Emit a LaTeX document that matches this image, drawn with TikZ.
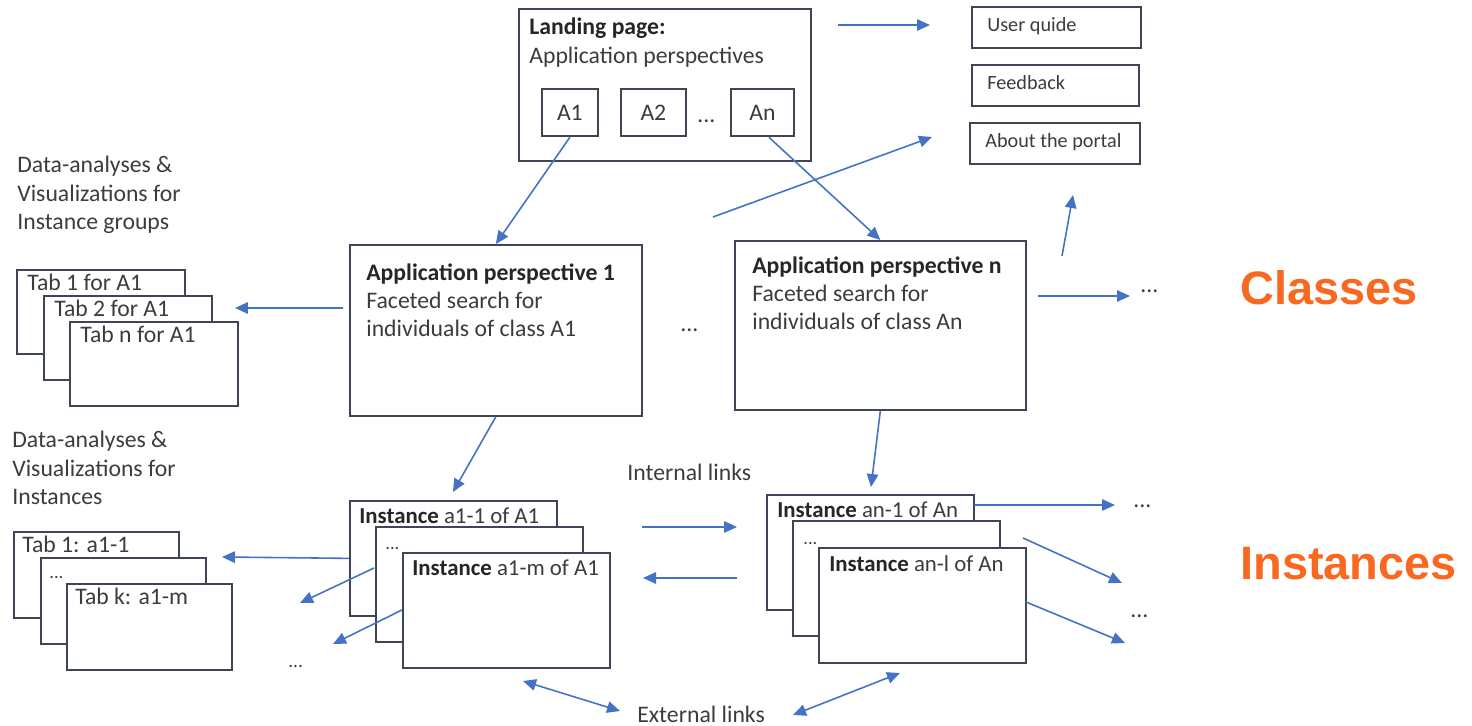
\documentclass[tikz,border=0pt]{standalone}
\usepackage{fontspec}
\setmainfont{Carlito}
\newfontfamily\tagfont{Liberation Sans}
\usetikzlibrary{arrows.meta,positioning}
\definecolor{frame}{RGB}{62,70,86}
\definecolor{ink}{RGB}{60,60,60}
\definecolor{linkblue}{RGB}{68,114,196}
\definecolor{tagorange}{RGB}{250,104,32}
\newcommand{\headtext}[1]{\textbf{\color{black!85}#1}}
\newcommand{\fewdots}{{\fontsize{10.5}{12}\selectfont...}}
\tikzset{
  card/.style={draw=frame,line width=1pt,fill=white,anchor=north west,inner sep=0pt},
  persp/.style={card,minimum width=5.84cm,minimum height=3.4cm},
  appkey/.style={card,minimum height=0.95cm,text=ink,font=\fontsize{13.5}{16}\selectfont},
  menu/.style={card,minimum height=0.82cm},
  tabcard/.style={card,minimum width=3.36cm,minimum height=1.68cm},
  itabcard/.style={card,minimum width=3.3cm,minimum height=1.72cm},
  instcard/.style={card,minimum width=4.15cm,minimum height=2.3cm},
  body/.style={anchor=north west,inner sep=0pt,align=left,text=ink,font=\fontsize{13.5}{16.2}\selectfont},
  oneline/.style={anchor=base west,inner sep=0pt,text=ink,font=\fontsize{13.5}{16.2}\selectfont},
  link/.style={-{Triangle[length=2.6mm,width=2.3mm]},draw=linkblue,line width=0.9pt},
  twoway/.style={link,{Triangle[length=2.6mm,width=2.3mm]}-{Triangle[length=2.6mm,width=2.3mm]}},
  tagword/.style={anchor=base west,inner sep=0pt,text=tagorange,font=\tagfont\bfseries\fontsize{26.7}{30}\selectfont}
}
\begin{document}
\begin{tikzpicture}[x=0.02cm,y=-0.02cm]
\useasboundingbox (0,0) rectangle (1472,726);
% landing page and its perspectives
\node[card,minimum width=5.84cm,minimum height=3.04cm] (land) at (518,8) {};
\node[body] (landtxt) at (529,18) {\headtext{Landing page:}\\Application perspectives};
\node[appkey,minimum width=1.12cm] (a1) at (541,88) {A1};
\node[appkey,minimum width=1.3cm] (a2) at (620,88) {A2};
\node[appkey,minimum width=1.26cm] (an) at (730,88) {An};
\node[oneline] (keydots) at (697,123) {...};
% portal menu
\foreach \nm/\x/\y/\w/\lab in {guide/971/6/3.38/{User quide},feedback/971/64/3.34/{Feedback},about/969/122/3.4/{About the portal}} {
  \node[menu,minimum width=\w cm] (\nm) at (\x,\y) {};
  \node[oneline,font=\fontsize{11.5}{14}\selectfont] (txt\nm) at (\x+16,\y+26) {\lab};
}
% class level
\node[persp,minimum height=3.42cm] (ap1) at (349,244) {};
\node[body] (ap1txt) at (366,263) {\headtext{Application perspective 1}\\Faceted search for\\individuals of class A1};
\node[persp,minimum width=5.82cm,minimum height=3.38cm] (apn) at (734,240) {};
\node[body] (apntxt) at (752,256) {\headtext{Application perspective n}\\Faceted search for\\individuals of class An};
\node[oneline] (apdots) at (680,332) {...};
\node[oneline] (apndots) at (1140,293) {...};
\node[body] (grouplbl) at (17,156) {Data-analyses \&\\Visualizations for\\Instance groups};
\foreach \i/\x/\y/\lab in {1/16/269/{Tab 1 for A1},2/43/295/{Tab 2 for A1},3/69/321/{Tab n for A1}} {
  \node[tabcard] (tg\i) at (\x,\y) {};
  \node[oneline] (tgtxt\i) at (\x+11,\y+22) {\lab};
}
% instance level
\node[body] (instlbl) at (12,431) {Data-analyses \&\\Visualizations for\\Instances};
\foreach \i/\x/\y/\lab in {1/13/531/{Tab 1: a1-1},2/40/557/{\fewdots},3/66/583/{Tab k: a1-m}} {
  \node[itabcard] (ti\i) at (\x,\y) {};
  \node[oneline] (titxt\i) at (\x+9,\y+21) {\lab};
}
\foreach \i/\x/\y/\lab in {1/349/500/{\headtext{Instance} a1-1 of A1},2/375/526/{\fewdots},3/402/552/{\headtext{Instance} a1-m of A1}} {
  \node[instcard] (ia\i) at (\x,\y) {};
  \node[oneline,font=\fontsize{13}{16}\selectfont] (iatxt\i) at (\x+10,\y+23) {\lab};
}
\foreach \i/\x/\y/\lab in {1/766/494/{\headtext{Instance} an-1 of An},2/792/520/{\fewdots},3/818/547/{\headtext{Instance} an-l of An}} {
  \node[instcard,minimum width=4.14cm] (in\i) at (\x,\y) {};
  \node[oneline,font=\fontsize{13}{16}\selectfont] (intxt\i) at (\x+11,\y+24) {\lab};
}
\node[oneline] (intlbl) at (627,480) {Internal links};
\node[oneline] (extlbl) at (637,722) {External links};
\node[oneline] (indots1) at (1133,507) {...};
\node[oneline] (indots2) at (1130,617) {...};
\node[oneline,font=\fontsize{11}{13}\selectfont] (iadots) at (288,667) {...};
\node[tagword] (classes) at (1240,305) {Classes};
\node[tagword] (instances) at (1240,580) {Instances};
% free arrow ends
\coordinate (menuin) at (838,25);
\coordinate (menuout) at (930,25);
\coordinate (portalin) at (713,217);
\coordinate (portalout) at (932,137);
\coordinate (upin) at (1062,256);
\coordinate (upout) at (1073,195);
\coordinate (apnout) at (1038,296);
\coordinate (apnend) at (1130,296);
\coordinate (ap1out) at (343,308);
\coordinate (ap1end) at (235,308);
\coordinate (ia1end) at (453,492);
\coordinate (in1end) at (871,487);
\coordinate (fwdin) at (642,527);
\coordinate (fwdout) at (737,527);
\coordinate (backin) at (737,578);
\coordinate (backout) at (643,578);
\coordinate (exta) at (523,681);
\coordinate (extb) at (620,711);
\coordinate (extc) at (793,715);
\coordinate (extd) at (900,673);
\coordinate (tabend) at (222,557);
\coordinate (ia2out) at (374,568);
\coordinate (ia2end) at (300,603);
\coordinate (ia3out) at (402,610);
\coordinate (ia3end) at (333,644);
\coordinate (in1far) at (1115,505);
\coordinate (in2out) at (1023,538);
\coordinate (in2end) at (1122,583);
\coordinate (in3out) at (1026,602);
\coordinate (in3end) at (1125,643);
% links
\draw[link] (menuin) -- (menuout);
\draw[link] (portalin) -- (portalout);
\draw[link] (upin) -- (upout);
\draw[link] (a1.south) -- (ap1.north);
\draw[link] ([xshift=1.3mm]an.south) -- (apn.north);
\draw[link] (apnout) -- (apnend);
\draw[link] (ap1out) -- (ap1end);
\draw[link] (ap1.south) -- (ia1end);
\draw[link] (apn.south) -- (in1end);
\draw[link] (fwdin) -- (fwdout);
\draw[link] (backin) -- (backout);
\draw[twoway] (exta) -- (extb);
\draw[twoway] (extc) -- (extd);
\draw[link] (ia1.west) -- (tabend);
\draw[link] (ia2out) -- (ia2end);
\draw[link] (ia3out) -- (ia3end);
\draw[link] ([yshift=-2.2mm]in1.north east) -- (in1far);
\draw[link] (in2out) -- (in2end);
\draw[link] (in3out) -- (in3end);
\end{tikzpicture}
\end{document}
